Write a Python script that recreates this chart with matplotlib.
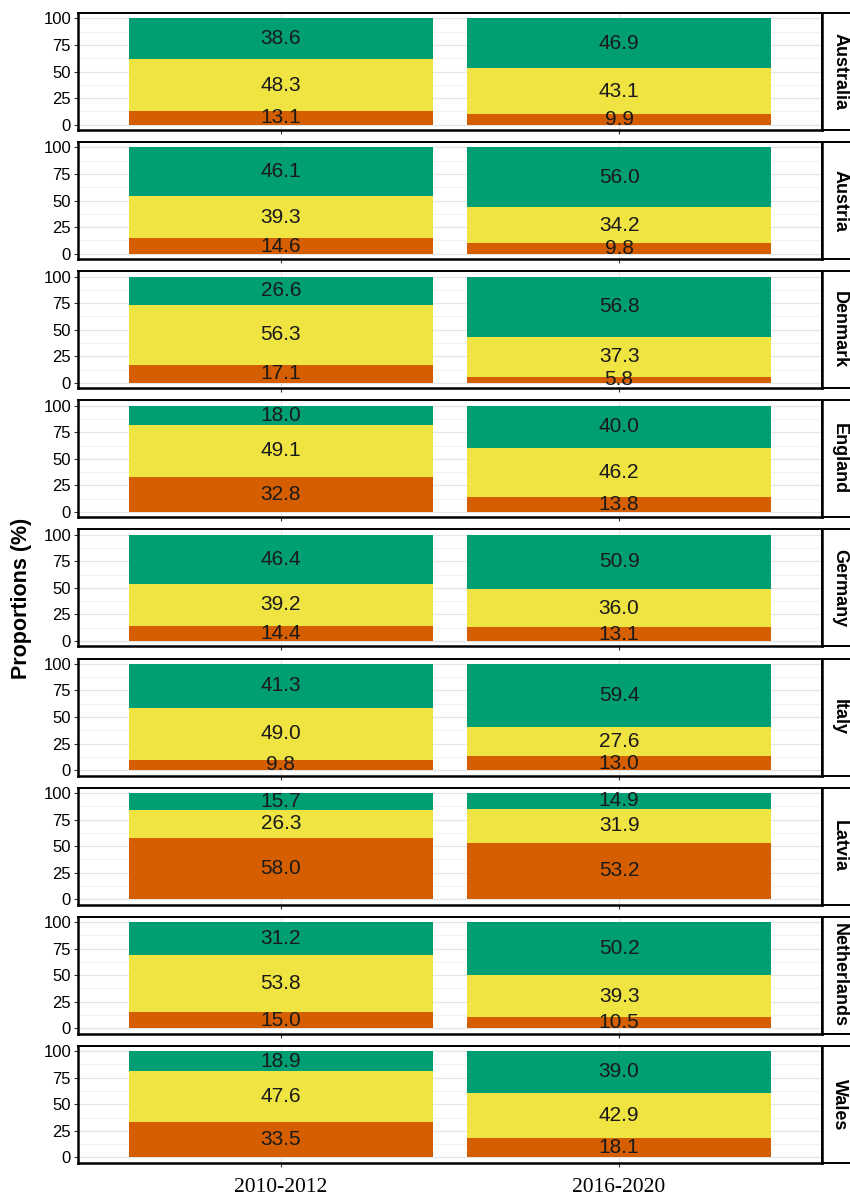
import matplotlib
matplotlib.use("Agg")
import matplotlib.pyplot as plt
import numpy as np

plt.rcParams['font.family'] = ['Liberation Sans', 'DejaVu Sans']

countries = ['Australia', 'Austria', 'Denmark', 'England', 'Germany',
             'Italy', 'Latvia', 'Netherlands', 'Wales']
periods = ['2010-2012', '2016-2020']

# bottom (orange), middle (yellow), top (green) per country, for each period
low_2010 = [13.1, 14.6, 17.1, 32.8, 14.4, 9.8, 58.0, 15.0, 33.5]
mid_2010 = [48.3, 39.3, 56.3, 49.1, 39.2, 49.0, 26.3, 53.8, 47.6]
high_2010 = [38.6, 46.1, 26.6, 18.0, 46.4, 41.3, 15.7, 31.2, 18.9]

low_2016 = [9.9, 9.8, 5.8, 13.8, 13.1, 13.0, 53.2, 10.5, 18.1]
mid_2016 = [43.1, 34.2, 37.3, 46.2, 36.0, 27.6, 31.9, 39.3, 42.9]
high_2016 = [46.9, 56.0, 56.8, 40.0, 50.9, 59.4, 14.9, 50.2, 39.0]

colors = ['#D55E00', '#F0E442', '#009E73']

W, H = 850, 1198
fig = plt.figure(figsize=(W / 100, H / 100), dpi=100)

left, right = 78, 822
strip_w = 34
top0, ph, step = 13, 117, 129.1

for i, c in enumerate(countries):
    y_top = top0 + i * step
    ax = fig.add_axes([left / W, 1 - (y_top + ph) / H, (right - left) / W, ph / H])
    segs = [[low_2010[i], low_2016[i]],
            [mid_2010[i], mid_2016[i]],
            [high_2010[i], high_2016[i]]]
    x = np.array([1, 2])
    bottom = np.zeros(2)
    for vals, col in zip(segs, colors):
        vals = np.array(vals)
        ax.bar(x, vals, width=0.9, bottom=bottom, color=col, edgecolor='none', zorder=2)
        for xi, b, v in zip(x, bottom, vals):
            ax.text(xi, b + v / 2, f"{v:.1f}", ha='center', va='center',
                    fontsize=15, color='#1a1a1a', zorder=3)
        bottom = bottom + vals
    ax.set_xlim(0.4, 2.6)
    ax.set_ylim(-5, 105)
    ax.set_yticks([0, 25, 50, 75, 100])
    ax.set_yticks([12.5, 37.5, 62.5, 87.5], minor=True)
    ax.set_xticks([1, 2])
    ax.grid(True, which='major', color='#e5e5e5', lw=0.9, zorder=0)
    ax.grid(True, which='minor', axis='y', color='#f0f0f0', lw=0.6, zorder=0)
    ax.tick_params(axis='y', which='major', labelsize=12, length=3, color='#333333', pad=2)
    ax.tick_params(axis='y', which='minor', length=0)
    ax.tick_params(axis='x', length=3, color='#333333')
    for s in ax.spines.values():
        s.set_color('black')
    ax.spines['left'].set_linewidth(1.8)
    ax.spines['bottom'].set_linewidth(1.8)
    ax.spines['top'].set_linewidth(1.4)
    ax.spines['right'].set_linewidth(1.4)
    if i == len(countries) - 1:
        ax.set_xticklabels(periods, family=['Liberation Serif', 'DejaVu Serif'], fontsize=15.5)
        ax.tick_params(axis='x', pad=8)
    else:
        ax.set_xticklabels([])

    sax = fig.add_axes([right / W, 1 - (y_top + ph) / H, strip_w / W, ph / H])
    sax.set_xticks([])
    sax.set_yticks([])
    for s in sax.spines.values():
        s.set_color('black')
        s.set_linewidth(1.4)
    sax.spines['left'].set_linewidth(1.8)
    sax.text(0.52, 0.5, c, rotation=-90, ha='center', va='center',
             fontsize=13, fontweight='bold', transform=sax.transAxes)

fig.text(22 / W, 1 - 598 / H, 'Proportions (%)', rotation=90, ha='center', va='center',
         fontsize=15.5, fontweight='bold')

fig.savefig('out.png', dpi=100)
